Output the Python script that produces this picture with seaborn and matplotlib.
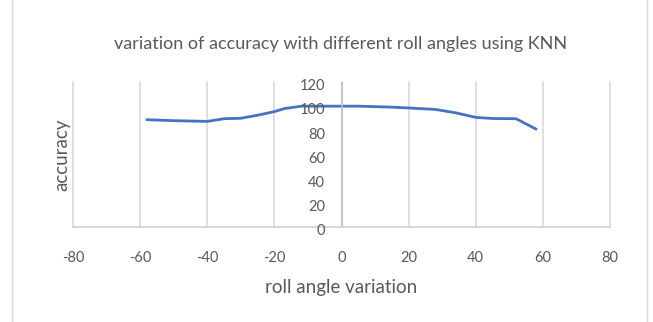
import pandas as pd
import matplotlib.pyplot as plt
import seaborn as sns
from matplotlib.patches import Rectangle

# values
roll_angle = [-58, -50, -40, -35, -30, -25, -20, -17, -12, -5, 0, 5, 10, 15, 20, 28, 34, 40, 45, 52, 58]
accuracy = [88.8, 88.0, 87.4, 89.6, 90.0, 92.5, 95.5, 98.0, 100.0, 100.0, 100.0, 100.0, 99.6, 99.2, 98.5, 97.3, 94.5, 90.7, 89.8, 89.6, 81.0]
x_ticks = [-80, -60, -40, -20, 0, 20, 40, 60, 80]
y_ticks = [0, 20, 40, 60, 80, 100, 120]

df = pd.DataFrame({'roll angle variation': roll_angle, 'accuracy': accuracy})

sns.set_theme(style="white")
plt.rcParams['font.family'] = ['Lato', 'DejaVu Sans']
plt.rcParams['axes.unicode_minus'] = False

fig = plt.figure(figsize=(6.53, 3.22), dpi=100)
ax = fig.add_axes([73 / 653, 1 - 227 / 322, (610 - 73) / 653, (227 - 82) / 322])

sns.lineplot(data=df, x='roll angle variation', y='accuracy', color='#4472C4',
             linewidth=2, sort=False, ax=ax)

ax.set_xlim(-80, 80)
ax.set_ylim(0, 120)
ax.set_xticks(x_ticks)
ax.set_yticks(y_ticks)
ax.set_yticklabels([])
ax.grid(axis='x', color='#d9d9d9', linewidth=1.2)
ax.grid(axis='y', visible=False)
for g in ax.get_xgridlines():
    g.set_clip_on(False)

# y axis crosses at x = 0 like in Excel
ax.axvline(0, color='#bfbfbf', linewidth=1.2)
for v in y_ticks:
    ax.annotate(str(v), xy=(0, v), xytext=(-12, -3), textcoords='offset points',
                ha='right', va='center', fontsize=10.5, color='#595959', annotation_clip=False)

ax.spines['bottom'].set_color('#d0d0d0')
ax.spines['bottom'].set_linewidth(1.2)
for s in ['top', 'right', 'left']:
    ax.spines[s].set_visible(False)

ax.tick_params(axis='x', length=0, pad=17, labelsize=10.5, labelcolor='#595959')
ax.tick_params(axis='y', length=0)

ax.set_xlabel('roll angle variation', fontsize=13.5, color='#595959')
ax.set_ylabel('accuracy', fontsize=13.5, color='#595959')
ax.xaxis.set_label_coords(0.5, -0.36)
ax.yaxis.set_label_coords(-0.005, 0.5)

fig.text(0.521, 1 - 44 / 322, 'variation of accuracy with different roll angles using KNN',
         ha='center', va='center', fontsize=13, color='#595959')

# chart frame (only the sides are visible in the crop)
fig.patches.append(Rectangle((12 / 653, -0.1), (647 - 12) / 653, 1.3, transform=fig.transFigure,
                             fill=False, edgecolor='#d9d9d9', linewidth=1))

fig.savefig('out.png', dpi=100)
